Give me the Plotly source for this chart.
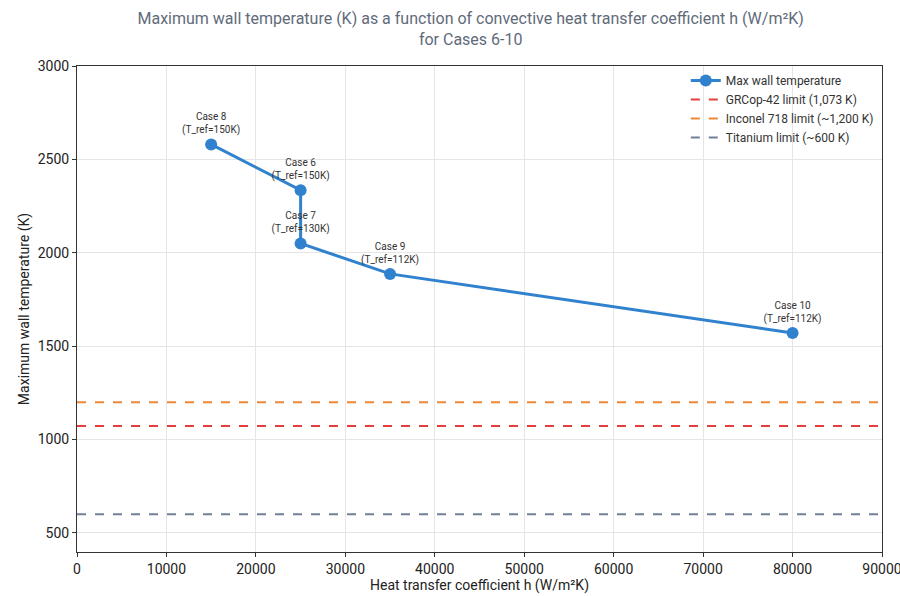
import plotly.graph_objects as go

cases = ["Case 8", "Case 6", "Case 7", "Case 9", "Case 10"]
h_values = [15000, 25000, 25000, 35000, 80000]
t_max = [2580, 2335, 2050, 1887, 1571]
t_ref = [150, 150, 130, 112, 112]

limit_names = ["GRCop-42 limit (1,073 K)", "Inconel 718 limit (~1,200 K)", "Titanium limit (~600 K)"]
limit_values = [1073, 1200, 600]
limit_colors = ["#e53e3e", "#ed8936", "#718096"]

x_range = [0, 90000]
y_range = [398, 3000]
x_ticks = [0, 10000, 20000, 30000, 40000, 50000, 60000, 70000, 80000, 90000]
y_ticks = [500, 1000, 1500, 2000, 2500, 3000]

labels = [f"{c}<br>(T_ref={t}K)" for c, t in zip(cases, t_ref)]

fig = go.Figure()
fig.add_trace(go.Scatter(
    x=h_values, y=t_max, mode="lines+markers+text",
    name="Max wall temperature",
    line=dict(color="#3182ce", width=3),
    marker=dict(size=12, color="#3182ce"),
    text=labels, textposition="top center",
    textfont=dict(size=10, color="#333333"),
))
for n, v, c in zip(limit_names, limit_values, limit_colors):
    fig.add_trace(go.Scatter(
        x=x_range, y=[v, v], mode="lines", name=n,
        line=dict(color=c, width=2, dash="dash"),
    ))

axis_common = dict(
    showline=True, linecolor="#333333", linewidth=1, mirror=True,
    showgrid=True, gridcolor="#e5e5e5", gridwidth=1,
    ticks="outside", ticklen=4, tickcolor="#333333",
    tickfont=dict(size=14, color="#222222"),
    zeroline=False, automargin=False, ticklabeloverflow="allow",
)
fig.update_layout(
    width=900, height=596,
    margin=dict(l=77, r=18, t=66, b=44),
    paper_bgcolor="white", plot_bgcolor="white",
    font=dict(family="Roboto, Inter, sans-serif", color="#333333"),
    title=dict(
        text="Maximum wall temperature (K) as a function of convective heat transfer coefficient h (W/m²K)<br>for Cases 6-10",
        xref="container", x=0.523, xanchor="center", yref="container", y=0.96, yanchor="top",
        font=dict(size=16, color="#5f6b7a"),
    ),
    xaxis=dict(range=x_range, tickvals=x_ticks, ticktext=[str(t) for t in x_ticks],
               title=dict(text="Heat transfer coefficient h (W/m²K)", font=dict(size=14, color="#222222"), standoff=2),
               **axis_common),
    yaxis=dict(range=y_range, tickvals=y_ticks,
               title=dict(text="Maximum wall temperature (K)", font=dict(size=14, color="#222222"), standoff=4),
               **axis_common),
    legend=dict(
        x=0.996, y=1.0, xanchor="right", yanchor="top",
        bgcolor="rgba(0,0,0,0)", borderwidth=0,
        font=dict(size=12, color="#333333"),
        tracegroupgap=0,
    ),
    showlegend=True,
)
fig.write_html("out.html")
